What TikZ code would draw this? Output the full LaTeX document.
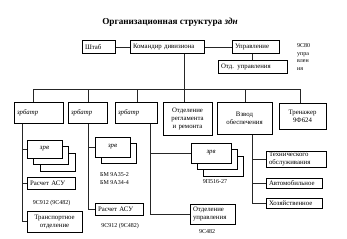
\documentclass[tikz,border=0pt]{standalone}
\usepackage{fontspec}
\setmainfont{Liberation Serif}

\begin{document}
\begin{tikzpicture}[x=1pt,y=-1pt,
  box/.style={draw, line width=1pt, fill=white, inner xsep=3pt, inner ysep=0pt,
    font=\fontsize{6.8}{8}\selectfont},
  stackbox/.style={draw, line width=1pt, fill=white, inner sep=0pt,
    font=\fontsize{6.8}{8}\selectfont\itshape},
  lbl/.style={inner sep=0pt, align=left, font=\fontsize{6}{7.4}\selectfont},
  conn/.style={line width=0.6pt, draw=black!85}]

\useasboundingbox (0,0) rectangle (347,238);

% Title
\node (title) at (170,22) {\fontsize{9.2}{10}\selectfont\bfseries Организационная структура \textit{здн}};

% Command row
\node[box, text width=27pt, minimum height=12pt, align=left] (shtab) at (98.5,47) {Штаб};
\node[box, text width=68pt, minimum height=12pt, align=left] (komdiv) at (167,47) {Командир дивизиона};
\node[box, text width=41pt, minimum height=12pt, align=left] (upr) at (255.5,47) {Управление};
\node[box, text width=63pt, minimum height=13pt, align=left] (otdupr) at (252.5,66.5) {Отд. управления};
\node[lbl, anchor=base west] (t9s80) at (297,70) {9С80\\упра\\влен\\ия};

\draw[conn] (shtab) -- (komdiv);
\draw[conn] (komdiv) -- (upr);
\draw[conn] (otdupr.north) -- (otdupr.north |- upr.south);

% Second row
\node[box, text width=43pt, minimum height=21pt, align=left, font=\fontsize{6.8}{8}\selectfont\itshape] (zb1) at (38.5,112.5) {зрбатр};
\node[box, text width=33pt, minimum height=21pt, align=left, font=\fontsize{6.8}{8}\selectfont\itshape] (zb2) at (87.5,112.5) {зрбатр};
\node[box, text width=36pt, minimum height=21pt, align=left, font=\fontsize{6.8}{8}\selectfont\itshape] (zb3) at (136,112.5) {зрбатр};
\node[box, text width=43pt, minimum height=33pt, align=center] (regl) at (187.5,118.5) {Отделение\\регламента\\и ремонта};
\node[box, text width=49pt, minimum height=32pt, align=center] (vzvod) at (244.5,118) {Взвод\\обеспечения\\[9pt]};
\node[box, text width=41pt, minimum height=26pt, align=center] (tren) at (302.5,116) {Тренажер\\9Ф624};

% Bus
\coordinate (b1) at (33,89);
\coordinate (b2) at (88,89);
\coordinate (b3) at (137,89);
\coordinate (b4) at (184,89);
\coordinate (b5) at (245,89);
\coordinate (b6) at (300,89);
\draw[conn] (b1) -- (b6);
\draw[conn] (komdiv.south -| b4) -- (b4);
\foreach \bb/\nd in {b1/zb1, b2/zb2, b3/zb3, b4/regl, b5/vzvod, b6/tren}
  \draw[conn] (\bb) -- (\bb |- \nd.north);

% First battery
\node[stackbox, minimum width=35pt, minimum height=18pt] (zrv1c) at (57.5,162) {};
\node[stackbox, minimum width=35pt, minimum height=18pt] (zrv1b) at (51,155.5) {};
\node[stackbox, minimum width=35pt, minimum height=18pt] (zrv1a) at (44.5,149) {зрв};
\node[box, text width=42pt, minimum height=12pt, align=left] (rasch1) at (51,183) {Расчет АСУ};
\node[lbl] (t9s912a) at (51.5,203) {9С912 (9С482)};
\node[box, text width=49pt, minimum height=21pt, align=center] (transp) at (54.5,221.5) {Транспортное\\отделение};

\coordinate (s1) at (22,0);
\draw[conn] (zb1.south -| s1) -- (transp.west -| s1) -- (transp.west);
\draw[conn] (zrv1a.west -| s1) -- (zrv1a.west);
\draw[conn] (rasch1.west -| s1) -- (rasch1.west);

% Second battery
\node[stackbox, minimum width=35pt, minimum height=20pt] (zrv2b) at (118.5,153) {};
\node[stackbox, minimum width=35pt, minimum height=20pt] (zrv2a) at (112.5,147) {зрв};
\node[lbl, anchor=west] (tbm) at (100,178.5) {БМ 9А35-2\\БМ 9А34-4};
\node[box, text width=42pt, minimum height=12pt, align=left] (rasch2) at (119,209) {Расчет АСУ};
\node[lbl] (t9s912b) at (120,226) {9С912 (9С482)};

\coordinate (s2) at (88,0);
\draw[conn] (zb2.south -| s2) -- (rasch2.west -| s2) -- (rasch2.west);
\draw[conn] (zrv2a.west -| s2) -- (zrv2a.west);

% Third battery
\node[stackbox, minimum width=40pt, minimum height=20pt] (zrv3c) at (223,166) {};
\node[stackbox, minimum width=40pt, minimum height=20pt] (zrv3b) at (217,159.5) {};
\node[stackbox, minimum width=40pt, minimum height=20pt] (zrv3a) at (211,153) {зрв};
\node[lbl] (t9p516) at (215,182) {9П516-27};
\node[box, text width=39pt, minimum height=20pt, align=left] (otdel) at (212.5,214) {Отделение\\управления};
\node[lbl] (t9s482) at (207,232) {9С482};

\coordinate (s3) at (150,0);
\draw[conn] (zb3.south -| s3) -- (otdel.west -| s3) -- (otdel.west);
\draw[conn] (zrv3a.west -| s3) -- (zrv3a.west);

% Support platoon
\node[box, text width=54pt, minimum height=16pt, align=left] (tech) at (296,159) {Технического\\обслуживания};
\node[box, text width=50pt, minimum height=10pt, align=left] (avto) at (294,183.5) {Автомобильное};
\node[box, text width=50pt, minimum height=10pt, align=left] (hoz) at (294,203.5) {Хозяйственное};

\coordinate (s4) at (252,0);
\draw[conn] (vzvod.south -| s4) -- (hoz.west -| s4) -- (hoz.west);
\draw[conn] (tech.west -| s4) -- (tech.west);
\draw[conn] (avto.west -| s4) -- (avto.west);

\end{tikzpicture}
\end{document}
